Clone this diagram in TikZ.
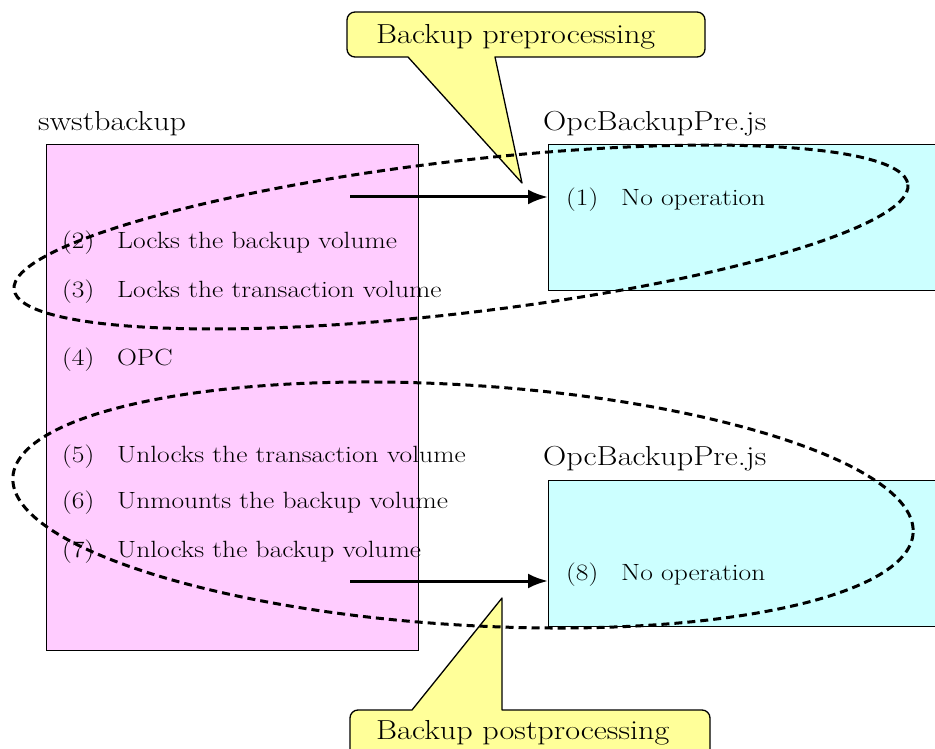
\documentclass[tikz,border=0pt]{standalone}
\usepackage{fontspec}
\setmainfont[FakeStretch=1.17]{Latin Modern Roman}
\usetikzlibrary{arrows.meta}
\definecolor{pinkfill}{HTML}{FFCCFF}
\definecolor{cyanfill}{HTML}{CCFFFF}
\definecolor{calloutfill}{HTML}{FFFF99}
\tikzset{
  box/.style={draw=black, line width=1.3pt, anchor=north west, inner sep=0pt},
  label/.style={anchor=base west, inner sep=0pt, font=\fontsize{27.5}{29}\selectfont},
  item/.style={anchor=base west, inner sep=0pt, font=\fontsize{23.5}{25}\selectfont},
  calltext/.style={anchor=base west, inner sep=0pt, font=\fontsize{27.5}{29}\selectfont},
  callout/.style={draw=black, line width=1.3pt, fill=calloutfill, line join=round},
  arr/.style={line width=3pt, -{Latex[length=20pt,width=15pt]}},
  loop/.style={line width=3pt, dash pattern=on 8pt off 5pt, line cap=butt}
}
\begin{document}
\begin{tikzpicture}[x=1pt,y=-1pt]
\useasboundingbox (0,0) rectangle (935,749);
% boxes
\node[box, fill=pinkfill, minimum width=372pt, minimum height=506pt] (sw) at (46,144) {};
\node[box, fill=cyanfill, minimum width=392pt, minimum height=146pt] (pre1) at (548,144) {};
\node[box, fill=cyanfill, minimum width=392pt, minimum height=146pt] (pre2) at (548,480) {};
% labels
\node[label] (lsw) at (38,131) {swstbackup};
\node[label] (lp1) at (543,131) {OpcBackupPre.js};
\node[label] (lp2) at (543,465) {OpcBackupPre.js};
% items
\node[item] (n2) at (62,248) {(2)};
\node[item] (t2) at (117,248) {Locks the backup volume};
\node[item] (n3) at (62,297) {(3)};
\node[item] (t3) at (117,297) {Locks the transaction volume};
\node[item] (n4) at (62,365) {(4)};
\node[item] (t4) at (117,365) {OPC};
\node[item] (n5) at (62,462) {(5)};
\node[item] (t5) at (117,462) {Unlocks the transaction volume};
\node[item] (n6) at (62,508) {(6)};
\node[item] (t6) at (117,508) {Unmounts the backup volume};
\node[item] (n7) at (62,557) {(7)};
\node[item] (t7) at (117,557) {Unlocks the backup volume};
\node[item] (n1) at (566,205) {(1)};
\node[item] (t1) at (621,205) {No operation};
\node[item] (n8) at (566,580) {(8)};
\node[item] (t8) at (621,580) {No operation};
% arrows
\coordinate (a1) at (350,197);
\coordinate (a2) at (350,581);
\draw[arr] (a1) -- (pre1.west |- a1);
\draw[arr] (a2) -- (pre2.west |- a2);
% callouts
\draw[callout] (355,12) -- (697,12) to[out=0,in=90] (705,20) -- (705,49) to[out=-90,in=0] (697,57)
  -- (495,57) -- (522,183) -- (408,57) -- (355,57) to[out=180,in=-90] (347,49) -- (347,20) to[out=90,in=180] (355,12) -- cycle;
\node[calltext] (c1) at (376,44) {Backup preprocessing};
\draw[callout] (358,710) -- (412,710) -- (502,598) -- (502,710) -- (702,710) to[out=0,in=90] (710,718)
  -- (710,760) -- (350,760) -- (350,718) to[out=90,in=180] (358,710) -- cycle;
\node[calltext] (c2) at (376,739) {Backup postprocessing};
% dashed loops
\draw[loop, rotate around={6.7:(461,237)}] (461,237) ellipse [x radius=450, y radius=76];
\draw[loop, rotate around={-3.56:(463,505)}] (463,505) ellipse [x radius=451, y radius=120];
\end{tikzpicture}
\end{document}
